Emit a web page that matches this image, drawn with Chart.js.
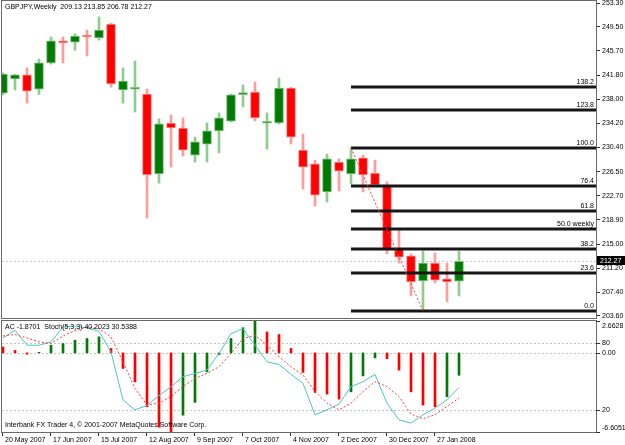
<!DOCTYPE html>
<html>
<head>
<meta charset="utf-8">
<title>GBPJPY Weekly</title>
<script src="https://cdn.jsdelivr.net/npm/chart.js@4.4.1/dist/chart.umd.min.js"></script>
<style>
  body { margin: 0; background: #fff; }
  #wrap { position: relative; width: 625px; height: 445px; overflow: hidden; background: #fff; }
  canvas { position: absolute; left: 0; }
  #price { top: 0; }
  #ind { top: 318px; }
</style>
</head>
<body>
<div id="wrap">
  <canvas id="price" width="625" height="320"></canvas>
  <canvas id="ind" width="625" height="127"></canvas>
</div>
<script>
// Weekly GBPJPY candles, 20 May 2007 .. 10 Feb 2008
const symbol = 'GBPJPY';
const period = 'Weekly';
const open  = [239.00, 241.25, 241.90, 239.60, 243.80, 247.30, 247.10, 248.20, 247.75, 249.95,
               239.50, 239.60, 238.85, 226.15, 234.25, 233.45, 229.15, 230.90, 233.00, 234.55,
               238.75, 239.15, 234.20, 234.25, 239.80, 229.95, 227.75, 223.30, 228.05, 226.15,
               228.70, 226.30, 224.40, 214.25, 213.15, 209.15, 212.00, 209.50, 209.13];
const high  = [242.20, 242.00, 243.00, 244.40, 247.90, 247.90, 248.40, 249.00, 251.10, 250.10,
               243.00, 244.10, 239.65, 234.90, 235.50, 235.05, 232.00, 234.25, 235.85, 238.85,
               240.30, 240.75, 235.85, 241.40, 239.90, 232.50, 228.35, 229.30, 228.55, 230.28,
               229.15, 228.35, 224.90, 217.25, 213.45, 213.90, 213.60, 212.00, 213.85];
const low   = [238.70, 239.50, 237.40, 238.80, 243.60, 243.80, 245.80, 244.90, 247.40, 239.95,
               237.40, 236.00, 219.15, 224.70, 227.25, 229.00, 228.05, 228.05, 229.50, 234.40,
               236.80, 234.55, 230.10, 234.10, 230.90, 223.75, 221.05, 221.70, 223.45, 224.55,
               223.30, 224.20, 213.45, 212.00, 206.80, 204.40, 208.85, 205.85, 206.78];
const close = [242.00, 241.90, 239.30, 243.80, 247.30, 246.95, 248.05, 247.90, 249.00, 240.45,
               240.90, 239.75, 226.00, 234.10, 233.45, 229.95, 231.25, 233.00, 235.05, 238.70,
               238.90, 235.05, 234.30, 239.80, 232.00, 227.25, 222.80, 228.55, 226.60, 228.55,
               226.00, 224.40, 214.10, 212.95, 209.00, 212.00, 209.30, 209.00, 212.27];

// Accelerator oscillator + Stochastic(5,3,3)
const ac = [0.50, 0.20, -0.10, 0.05, 0.64, 0.78, 1.06, 1.20, 1.34, 0.37,
            -1.30, -2.42, -4.50, -6.20, -6.6051, -5.20, -4.13, -1.58, -0.15, 1.20,
            2.10, 2.6628, 1.75, 1.53, 0.37, -1.63, -3.30, -3.44, -3.86, -3.25,
            -1.92, -0.42, -0.48, -1.44, -3.25, -4.36, -4.50, -3.67, -1.8701];
const stochMain = [84.7, 91.6, 78.2, 78.2, 81.1, 94.6, 95.5, 93.7, 90.7, 72.2,
                   28.9, 20.0, 23.8, 32.8, 40.8, 49.8, 52.8, 55.8, 70.7, 88.6,
                   93.1, 78.2, 63.2, 60.9, 51.9, 43.9, 15.5, 20.0, 25.1, 40.8,
                   45.3, 51.9, 26.0, 11.0, 8.0, 15.5, 21.5, 28.9, 40.2023];
const stochSignal = [86.5, 87.8, 84.7, 81.2, 79.7, 86.5, 91.5, 94.6, 93.1, 85.6,
                     63.2, 39.3, 24.4, 25.9, 31.9, 40.9, 48.3, 52.8, 58.8, 70.7,
                     84.2, 87.2, 78.2, 67.7, 58.8, 51.3, 36.4, 25.9, 20.0, 25.9,
                     36.4, 45.3, 40.9, 31.9, 16.1, 11.9, 15.5, 23.0, 30.5388];
const stochLevels = [80, 20];

// fibonacci retracement drawn from the high of bar 29 to the low of bar 35
const fibFrom = 29, fibTo = 35;
const fibNames  = ['138.2', '123.8', '100.0', '76.4', '61.8', '50.0 weekly', '38.2', '23.6', '0.0'];
const fibPrices = [239.96, 236.31, 230.28, 224.24, 220.27, 217.42, 214.24, 210.43, 204.40];

// axis labels
const priceTicks = [253.30, 249.50, 245.70, 241.80, 238.00, 234.20, 230.40, 226.50,
                    222.70, 218.90, 215.00, 211.20, 207.40, 203.60];
const dateTickIdx = [0, 4, 8, 12, 16, 20, 24, 28, 32, 36];
const dateLabels = ['20 May 2007', '17 Jun 2007', '15 Jul 2007', '12 Aug 2007', '9 Sep 2007',
                    '7 Oct 2007', '4 Nov 2007', '2 Dec 2007', '30 Dec 2007', '27 Jan 2008'];

const GREEN = '#037a03', RED = '#ff0000';
const xMin = -0.0833, xMax = 49.4167;
const last = close.length - 1;
const bull = i => close[i] >= open[i];

Chart.defaults.font.family = "'Liberation Sans', Arial, sans-serif";
Chart.defaults.font.size = 7;
Chart.defaults.color = '#000';

const FONT = "7px 'Liberation Sans', Arial, sans-serif";

function frame(ctx, a) {
  ctx.strokeStyle = '#6a6a6a';
  ctx.lineWidth = 1;
  ctx.setLineDash([]);
  ctx.strokeRect(a.left - 0.5, a.top - 0.5, a.right - a.left + 1, a.bottom - a.top + 1);
}

const priceDecor = {
  id: 'priceDecor',
  afterDraw(chart) {
    const { ctx, chartArea: a, scales } = chart;
    ctx.save();
    frame(ctx, a);
    ctx.font = FONT;
    ctx.fillStyle = '#000';
    ctx.textBaseline = 'middle';
    ctx.textAlign = 'left';
    ctx.fillText(symbol + ',' + period + '  ' + [open[last], high[last], low[last], close[last]]
      .map(v => v.toFixed(2)).join(' '), a.left + 3, a.top + 6);

    // fibo level names
    ctx.textAlign = 'right';
    ctx.textBaseline = 'bottom';
    fibPrices.forEach((p, i) => {
      const y = scales.y.getPixelForValue(p);
      ctx.fillText(fibNames[i], a.right - 2, y - 1);
    });

    // bid label on the price axis
    const by = Math.round(scales.y.getPixelForValue(close[last]));
    ctx.fillStyle = '#000';
    ctx.fillRect(a.right + 1, by - 5, 28, 9);
    ctx.fillStyle = '#fff';
    ctx.textAlign = 'left';
    ctx.textBaseline = 'middle';
    ctx.fillText(close[last].toFixed(2), a.right + 4, by);
    ctx.restore();
  }
};

new Chart(document.getElementById('price'), {
  type: 'bar',
  data: {
    datasets: [
      {
        type: 'line',
        data: [{ x: fibFrom, y: high[fibFrom] }, { x: fibTo, y: low[fibTo] }],
        borderColor: '#ff3c3c', borderWidth: 1, borderDash: [2, 2], pointRadius: 0, clip: 0
      },
      ...fibPrices.map(p => ({
        type: 'line',
        data: [{ x: fibFrom, y: p }, { x: xMax, y: p }],
        borderColor: '#161616', borderWidth: 3, pointRadius: 0, clip: 0
      })),
      {
        data: open.map((o, i) => ({ x: i, y: [o, close[i]] })),
        backgroundColor: c => bull(c.dataIndex) ? GREEN : RED,
        borderColor: c => bull(c.dataIndex) ? '#7cc47c' : '#ff8f8f',
        borderWidth: 1, borderSkipped: false,
        barThickness: 9, minBarLength: 2, grouped: false, clip: 0
      },
      {
        data: low.map((l, i) => ({ x: i, y: [l, high[i]] })),
        backgroundColor: c => bull(c.dataIndex) ? '#8fcc8f' : '#ff9c9c',
        barThickness: 2, grouped: false, clip: 0
      },
      {
        type: 'line',
        data: [{ x: xMin, y: close[last] }, { x: xMax, y: close[last] }],
        borderColor: '#c8c8c8', borderWidth: 1, borderDash: [2, 2], pointRadius: 0, clip: 0
      }
    ]
  },
  options: {
    responsive: false,
    animation: false,
    events: [],
    layout: { padding: { left: 2, top: 1, right: 0, bottom: 2 } },
    plugins: { legend: { display: false }, tooltip: { enabled: false } },
    scales: {
      x: { type: 'linear', min: xMin, max: xMax, offset: false, grid: { offset: false }, display: false },
      y: {
        position: 'right',
        min: 203.28,
        max: 253.62,
        afterBuildTicks: s => { s.ticks = priceTicks.map(v => ({ value: v })); },
        afterFit: s => { s.width = 29; s.paddingTop = 0; s.paddingBottom = 0; },
        grid: { drawOnChartArea: false, tickLength: 4, color: '#303030' },
        border: { display: false },
        ticks: { padding: 2, autoSkip: false, callback: v => v.toFixed(2) }
      }
    }
  },
  plugins: [priceDecor]
});

const indDecor = {
  id: 'indDecor',
  beforeDatasetsDraw(chart) {
    const { ctx, chartArea: a, scales } = chart;
    const levels = stochLevels.map(v => scales.yS.getPixelForValue(v));
    levels.push(scales.yAC.getPixelForValue(0));
    ctx.save();
    ctx.strokeStyle = '#c4c4c4';
    ctx.lineWidth = 1;
    ctx.setLineDash([2, 2]);
    levels.forEach(y => {
      y = Math.round(y) + 0.5;
      ctx.beginPath();
      ctx.moveTo(a.left, y);
      ctx.lineTo(a.right, y);
      ctx.stroke();
    });
    ctx.restore();
  },
  afterDraw(chart) {
    const { ctx, chartArea: a, scales } = chart;
    ctx.save();
    frame(ctx, a);
    ctx.font = FONT;
    ctx.fillStyle = '#000';
    ctx.textAlign = 'left';
    ctx.textBaseline = 'middle';
    ctx.fillText('AC ' + ac[last].toFixed(4) + '  Stoch(5,3,3) ' + stochMain[last].toFixed(4) +
      ' ' + stochSignal[last].toFixed(4), a.left + 3, a.top + 6);
    ctx.fillText('Interbank FX Trader 4, \u00a9 2001-2007 MetaQuotes Software Corp.', a.left + 3, a.bottom - 7);

    const acMax = Math.max(...ac), acMin = Math.min(...ac);
    const marks = [
      [scales.yAC, acMax, acMax.toFixed(4)],
      [scales.yS, stochLevels[0], String(stochLevels[0])],
      [scales.yAC, 0, '0.00'],
      [scales.yS, stochLevels[1], String(stochLevels[1])],
      [scales.yAC, acMin, acMin.toFixed(4)]
    ];
    ctx.strokeStyle = '#303030';
    marks.forEach(([sc, v, txt]) => {
      const y = sc.getPixelForValue(v);
      const ty = Math.min(Math.max(y, a.top + 5), a.bottom - 4);
      ctx.beginPath();
      ctx.moveTo(a.right, Math.round(y) + 0.5);
      ctx.lineTo(a.right + 4, Math.round(y) + 0.5);
      ctx.stroke();
      ctx.fillText(txt, a.right + 6, ty);
    });
    ctx.restore();
  }
};

new Chart(document.getElementById('ind'), {
  type: 'bar',
  data: {
    datasets: [
      {
        type: 'line', yAxisID: 'yS',
        data: stochSignal.map((v, i) => ({ x: i, y: v })),
        borderColor: '#ff3c3c', borderWidth: 1, borderDash: [2, 2], pointRadius: 0
      },
      {
        type: 'line', yAxisID: 'yS',
        data: stochMain.map((v, i) => ({ x: i, y: v })),
        borderColor: '#4cc6c6', borderWidth: 1, pointRadius: 0
      },
      {
        yAxisID: 'yAC',
        data: ac.map((v, i) => ({ x: i, y: v })),
        backgroundColor: c => (c.dataIndex > 0 && ac[c.dataIndex] > ac[c.dataIndex - 1]) ? GREEN : RED,
        barThickness: 2, grouped: false, clip: 0
      }
    ]
  },
  options: {
    responsive: false,
    animation: false,
    events: [],
    layout: { padding: { left: 2, top: 3, right: 29, bottom: 0 } },
    plugins: { legend: { display: false }, tooltip: { enabled: false } },
    scales: {
      x: {
        type: 'linear', min: xMin, max: xMax, position: 'bottom', offset: false,
        afterBuildTicks: s => { s.ticks = dateTickIdx.map(v => ({ value: v })); },
        afterFit: s => { s.height = 13; s.paddingLeft = 0; s.paddingRight = 0; },
        grid: { drawOnChartArea: false, offset: false, tickLength: 4, color: '#303030' },
        border: { display: false },
        ticks: {
          align: 'start', maxRotation: 0, autoSkip: false, padding: 0, labelOffset: 2,
          callback: (v, i) => dateLabels[i]
        }
      },
      yAC: { min: Math.min(...ac), max: Math.max(...ac), display: false },
      yS: { min: 0, max: 100, display: false }
    }
  },
  plugins: [indDecor]
});
</script>
</body>
</html>
